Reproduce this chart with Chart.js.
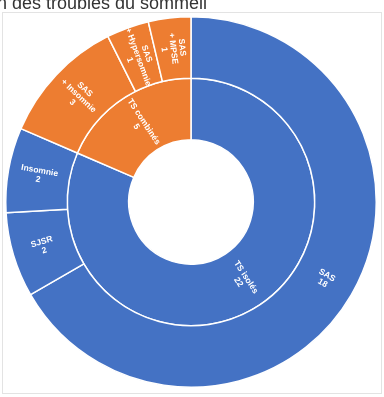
<!DOCTYPE html>
<html>
<head>
<meta charset="utf-8">
<script src="https://cdn.jsdelivr.net/npm/chart.js@4/dist/chart.umd.min.js"></script>
<style>
    body { margin: 0; background: #fff; }
    #wrap { width: 384px; height: 397px; }
</style>
</head>
<body>
<div id="wrap"><canvas id="chart" width="384" height="397"></canvas></div>
<script>
const title = "Répartition des troubles du sommeil";

// outer ring (detail)
const outerLabels = [["SAS"], ["SJSR"], ["Insomnie"], ["SAS", "+ Insomnie"], ["SAS", "+ Hypersomnie"], ["SAS", "+ MPSE"]];
const outerValues = [18, 2, 2, 3, 1, 1];
const outerGroup = [0, 0, 0, 1, 1, 1];

// inner ring (groups)
const innerLabels = [["TS isolés"], ["TS combinés"]];
const innerValues = [22, 5];

const colors = ["#4472C4", "#ED7D31"];

const frame = {
    id: "frame",
    beforeDraw(chart) {
        const ctx = chart.ctx;
        ctx.save();
        ctx.strokeStyle = "#e3e3e3";
        ctx.lineWidth = 1;
        ctx.strokeRect(2.5, 12.5, 379, 381);
        ctx.fillStyle = "#333";
        ctx.font = "18px 'Liberation Sans', Arial, sans-serif";
        ctx.textAlign = "right";
        ctx.textBaseline = "alphabetic";
        ctx.fillText(title, 207, 8.5);
        ctx.restore();
    }
};

const sliceLabels = {
    id: "sliceLabels",
    afterDatasetsDraw(chart) {
        const ctx = chart.ctx;
        ctx.save();
        ctx.fillStyle = "#fff";
        ctx.font = "bold 8.5px 'Liberation Sans', Arial, sans-serif";
        ctx.textAlign = "center";
        ctx.textBaseline = "middle";
        chart.data.datasets.forEach((ds, di) => {
            chart.getDatasetMeta(di).data.forEach((arc, i) => {
                const p = arc.getProps(["x", "y", "startAngle", "endAngle", "innerRadius", "outerRadius"]);
                const mid = (p.startAngle + p.endAngle) / 2;
                const r = (p.innerRadius + p.outerRadius) / 2;
                let rot = Math.atan2(Math.sin(mid), Math.cos(mid));
                if (rot > Math.PI / 2) rot -= Math.PI;
                if (rot < -Math.PI / 2) rot += Math.PI;
                const lines = ds.lines[i].concat(String(ds.data[i]));
                const lh = 9;
                ctx.save();
                ctx.translate(p.x + Math.cos(mid) * r, p.y + Math.sin(mid) * r);
                ctx.rotate(rot);
                lines.forEach((t, k) => {
                    ctx.fillText(t, 0, (k - (lines.length - 1) / 2) * lh);
                });
                ctx.restore();
            });
        });
        ctx.restore();
    }
};

const chart = new Chart("chart", {
    type: "doughnut",
    data: {
        labels: outerLabels.map(l => l.join(" ")),
        datasets: [{
            data: outerValues,
            lines: outerLabels,
            backgroundColor: outerGroup.map(g => colors[g]),
            borderColor: "#fff",
            borderWidth: 1.5
        }, {
            data: innerValues,
            lines: innerLabels,
            backgroundColor: colors,
            borderColor: "#fff",
            borderWidth: 1.5
        }]
    },
    options: {
        responsive: false,
        animation: false,
        cutout: "33.6%",
        layout: {
            padding: { left: 5, right: 7, top: 16, bottom: 9 }
        },
        plugins: {
            legend: { display: false },
            tooltip: { enabled: false }
        }
    },
    plugins: [frame, sliceLabels]
});
</script>
</body>
</html>
